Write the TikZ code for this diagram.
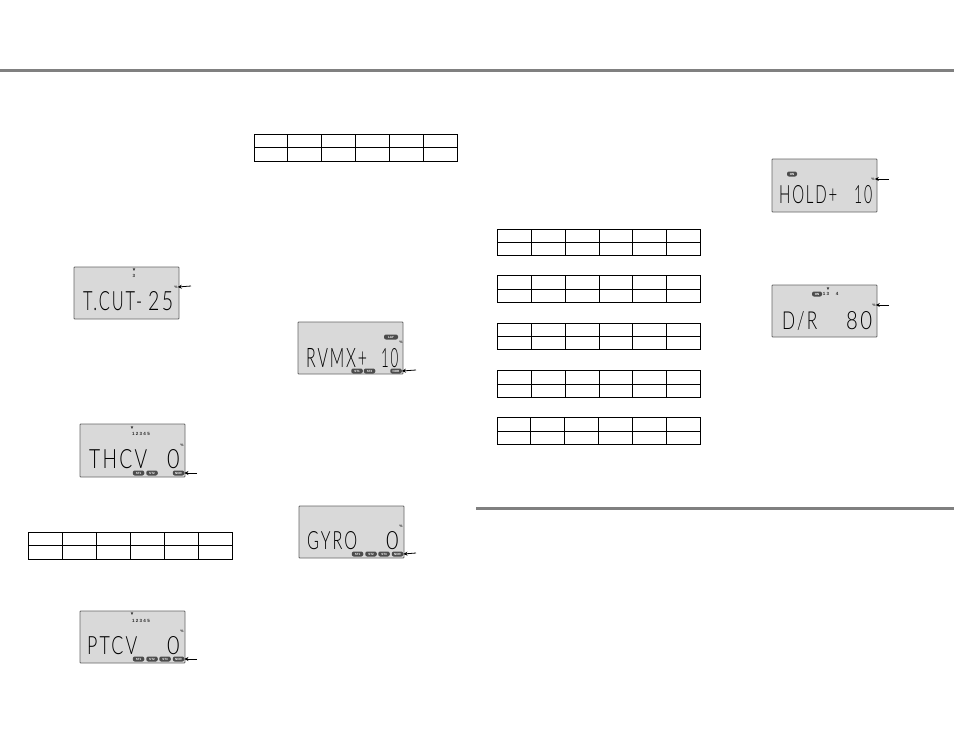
\documentclass[tikz,border=0pt]{standalone}
\usepackage{graphicx}
\usepackage{fontspec}
\setmainfont{Liberation Sans}
\newfontfamily\lcdfont{Lato Light}[LetterSpace=12]
\definecolor{lcdgray}{gray}{0.85}
\definecolor{rulegray}{gray}{0.5}
\definecolor{edgegray}{gray}{0.4}
\usetikzlibrary{arrows.meta}
\tikzset{
  lcdpanel/.style={fill=lcdgray,draw=edgegray,line width=0.9pt,rounded corners=0.8pt},
  lcdtext/.style={anchor=base west,inner sep=0pt,text=black},
  pill/.style={fill=black!70,text=white,rounded corners=2pt,inner sep=0pt,minimum width=#1,minimum height=5pt,font=\fontsize{3}{3}\selectfont\bfseries},
  pill/.default=11.5pt,
  tiny/.style={inner sep=0pt,text=black!85,font=\fontsize{4.5}{4.5}\selectfont\bfseries},
  pct/.style={inner sep=0pt,text=black!85,font=\fontsize{3.6}{3.6}\selectfont\bfseries},
  callout/.style={-{Stealth[length=4pt,width=4pt]},line width=0.8pt,black},
  cell/.style={line width=0.9pt,black},
  sectionrule/.style={line width=3pt,rulegray}
}
% \lcdtxt{name}{x0}{baseline y}{width}{height}{text}
\newcommand{\lcdtxt}[6]{\node[lcdtext] (#1) at (#2,#3) {\resizebox{#4pt}{#5pt}{\lcdfont #6}};}
% \panel{name}{x0}{y0}{x1}{y1}
\newcommand{\panel}[5]{\node[lcdpanel,inner sep=0pt,minimum width=#4pt-#2pt,minimum height=#5pt-#3pt] (#1) at ({(#2+#4)/2},{(#3+#5)/2}) {};}
% \valtable{x0}{x1}{y0}{ymid}{y1}
\newcommand{\valtable}[5]{%
  \draw[cell] (#1,#3) rectangle (#2,#5);
  \draw[cell] (#1,#4) -- (#2,#4);
  \foreach \k in {1,...,5} {\draw[cell] ({#1+\k*(#2-#1)/6},#3) -- ({#1+\k*(#2-#1)/6},#5);}
}
\begin{document}
\begin{tikzpicture}[x=1pt,y=-1pt]
\useasboundingbox (0,0) rectangle (954,737);
\fill[white] (0,0) rectangle (954,737);
% section rules
\draw[sectionrule] (0,70.5) -- (954,70.5);
\draw[sectionrule] (476,508) -- (954,508);
% tables
\valtable{254}{457.5}{134}{147.5}{161}
\valtable{28.5}{232.5}{532}{545.5}{559}
\valtable{497.5}{700.5}{229.5}{242.5}{255.5}
\valtable{497.5}{700.5}{275.5}{289}{302}
\valtable{497.5}{700.5}{323}{336.5}{349.5}
\valtable{497.5}{700.5}{370.5}{384}{397}
\valtable{497}{700}{417.5}{431}{444}
% T.CUT
\panel{p1}{74}{267}{179}{319}
\lcdtxt{p1w}{83}{310}{59}{19}{T.CUT-}
\lcdtxt{p1v}{148}{310}{25}{19}{25}
\node[tiny] (p1a) at (134,270) {▼};
\node[tiny] (p1b) at (134,276) {3};
\node[pct] (p1p) at (176,287) {\%};
\coordinate (a1) at (191,286);
\draw[callout] (a1) -- (p1p.east);
% THCV
\panel{p2}{80}{424}{185}{477}
\lcdtxt{p2w}{89}{468}{58}{19}{THCV}
\lcdtxt{p2v}{167}{468}{12.5}{19}{0}
\node[tiny] (p2a) at (132,428) {▼};
\node[tiny] (p2b) at (141,434) {1 2 3 4 5};
\node[pct] (p2p) at (182,445) {\%};
\node[pill] (p2s1) at (138.5,473) {ST1};
\node[pill] (p2s2) at (152,473) {ST2};
\node[pill] (p2n) at (178.5,473) {NOR};
\coordinate (a2) at (197,473);
\draw[callout] (a2) -- (p2n.east);
% PTCV
\panel{p3}{80}{611}{185}{663}
\lcdtxt{p3w}{87}{654}{50}{18}{PTCV}
\lcdtxt{p3v}{167}{654}{12.5}{18}{0}
\node[tiny] (p3a) at (132,614) {▼};
\node[tiny] (p3b) at (141,621) {1 2 3 4 5};
\node[pct] (p3p) at (182,631) {\%};
\node[pill] (p3s1) at (138.5,659) {ST1};
\node[pill] (p3s2) at (152,659) {ST2};
\node[pill] (p3s3) at (165,659) {ST3};
\node[pill] (p3n) at (178.5,659) {NOR};
\coordinate (a3) at (197,659);
\draw[callout] (a3) -- (p3n.east);
% RVMX
\panel{p4}{298}{322}{403}{374}
\lcdtxt{p4w}{306}{367}{61}{19}{RVMX+}
\lcdtxt{p4v}{381}{367}{17}{19}{10}
\node[pill=14pt] (p4l) at (391,337) {LAY};
\node[pct] (p4p) at (401,342) {\%};
\node[pill] (p4s1) at (357,371) {ST1};
\node[pill] (p4s2) at (369.5,371) {ST2};
\node[pill] (p4n) at (396,371) {NOR};
\coordinate (a4) at (416,370);
\draw[callout] (a4) -- (p4n.east);
% GYRO
\panel{p5}{299}{506}{404}{558}
\lcdtxt{p5w}{307}{549}{50}{18}{GYRO}
\lcdtxt{p5v}{386}{549}{12.5}{18}{0}
\node[pct] (p5p) at (401,526) {\%};
\node[pill] (p5s1) at (357.5,554) {ST1};
\node[pill] (p5s2) at (371,554) {ST2};
\node[pill] (p5s3) at (384,554) {ST3};
\node[pill] (p5n) at (397.5,554) {NOR};
\coordinate (a5) at (416,553);
\draw[callout] (a5) -- (p5n.east);
% HOLD
\panel{p6}{772}{159}{877}{212}
\lcdtxt{p6w}{779}{203}{58}{18}{HOLD+}
\lcdtxt{p6v}{854}{203}{18}{18}{10}
\node[pill=10pt] (p6o) at (792,174) {ON};
\node[pct] (p6p) at (873,179) {\%};
\coordinate (a6) at (889,179);
\draw[callout] (a6) -- (p6p.east);
% D/R
\panel{p7}{772}{285}{877}{337}
\lcdtxt{p7w}{782}{329}{35}{18}{D/R}
\lcdtxt{p7v}{846}{329}{26}{18}{80}
\node[pill=10pt] (p7o) at (817,294) {ON};
\node[tiny] (p7a) at (828,289) {▼};
\node[tiny] (p7b) at (826,294) {1 3};
\node[tiny] (p7c) at (837,294) {4};
\node[pct] (p7p) at (874,305) {\%};
\coordinate (a7) at (889,305);
\draw[callout] (a7) -- (p7p.east);
\end{tikzpicture}
\end{document}
